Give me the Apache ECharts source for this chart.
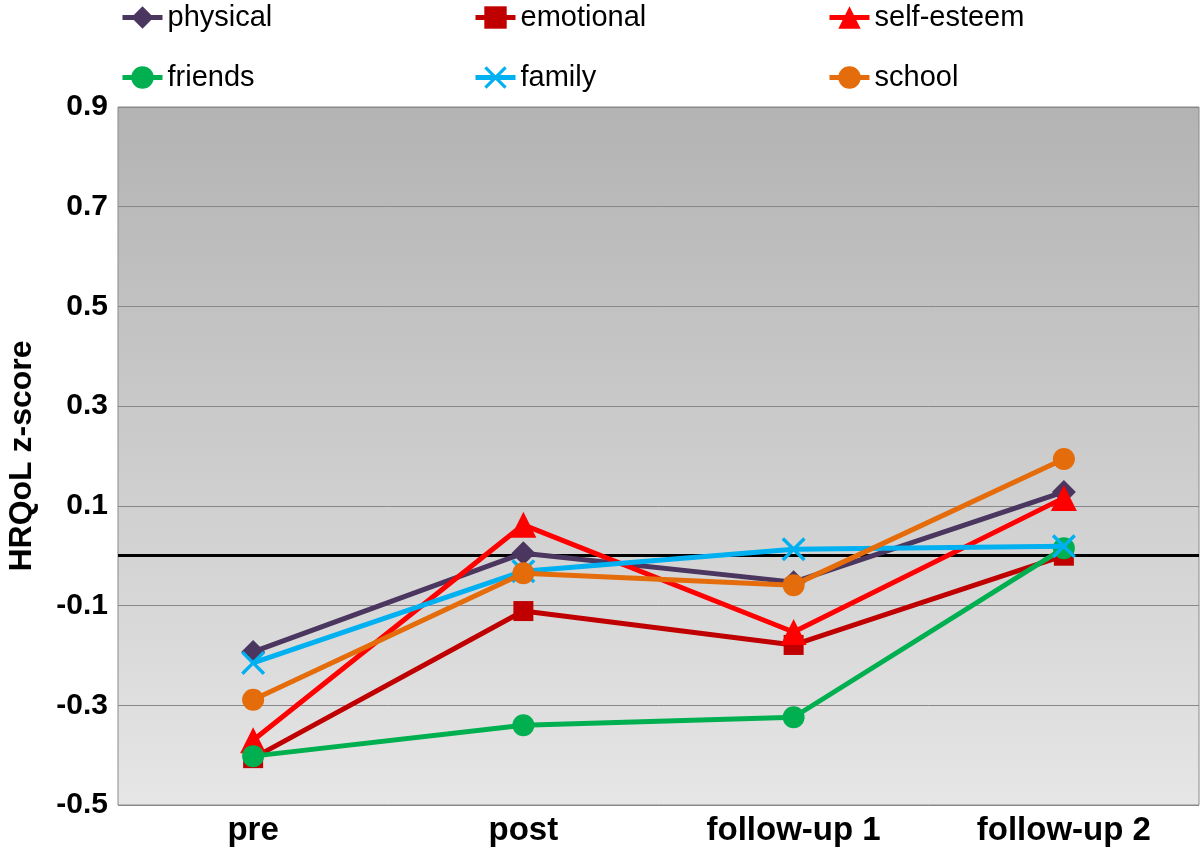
<!DOCTYPE html>
<html><head><meta charset="utf-8">
<script src="https://cdn.jsdelivr.net/npm/echarts@6/dist/echarts.min.js"></script>
<style>html,body{margin:0;padding:0;background:#fff}#c{width:1200px;height:850px}</style>
</head><body><div id="c"></div>
<script>
const categories = ['pre', 'post', 'follow-up 1', 'follow-up 2'];
const physical   = [-0.193, 0.005, -0.053, 0.128];
const emotional  = [-0.406, -0.111, -0.179, 0.0];
const selfEsteem = [-0.37, 0.062, -0.153, 0.116];
const friends    = [-0.402, -0.34, -0.324, 0.015];
const family     = [-0.215, -0.031, 0.013, 0.019];
const school     = [-0.289, -0.035, -0.059, 0.194];
const yTicks = [-0.5, -0.3, -0.1, 0.1, 0.3, 0.5, 0.7, 0.9];

const xPath = 'path://M2,0 L10,8 L18,0 L20,2 L12,10 L20,18 L18,20 L10,12 L2,20 L0,18 L8,10 L0,2 Z';
const FONT = 'Liberation Sans, Arial, Helvetica, sans-serif';

const seriesDefs = [
  {name:'physical', data:physical, color:'#4b3660', symbol:'diamond', size:24},
  {name:'emotional', data:emotional, color:'#c00000', symbol:'rect', size:20},
  {name:'self-esteem', data:selfEsteem, color:'#ff0000', symbol:'triangle', size:26},
  {name:'friends', data:friends, color:'#00b050', symbol:'circle', size:22},
  {name:'family', data:family, color:'#00b0f0', symbol:xPath, size:24},
  {name:'school', data:school, color:'#e46c0a', symbol:'circle', size:22}
];

const legendPos = [[120,3],[473,3],[827,3],[120,63],[473,63],[827,63]];

const chart = echarts.init(document.getElementById('c'));
const series = seriesDefs.map((s, i) => ({
  name: s.name, type: 'line', data: s.data,
  symbol: s.symbol, symbolSize: s.size,
  itemStyle: {color: s.color},
  lineStyle: {color: s.color, width: 5},
  z: 3 + i,
  animation: false
}));
series[0].markLine = {
  silent: true, symbol: 'none', label: {show: false},
  lineStyle: {color: '#000', width: 3, type: 'solid'},
  data: [{yAxis: 0}], z: 2
};

chart.setOption({
  animation: false,
  legend: seriesDefs.map((s, i) => ({
    data: [s.name], left: legendPos[i][0], top: legendPos[i][1], padding: 0,
    itemWidth: 40, itemHeight: 28, itemGap: 6,
    lineStyle: {width: 5},
    textStyle: {fontFamily: FONT, fontSize: 29, color: '#000'}
  })),
  grid: {
    left: 118, right: 1, top: 107, bottom: 45, show: true,
    containLabel: false, outerBoundsMode: 'none',
    borderColor: '#8a8a8a', borderWidth: 1,
    backgroundColor: new echarts.graphic.LinearGradient(0, 0, 0, 1, [
      {offset: 0, color: '#b3b3b3'}, {offset: 1, color: '#e6e6e6'}
    ])
  },
  xAxis: {
    type: 'category', data: categories, boundaryGap: true,
    axisLine: {show: false}, axisTick: {show: false},
    axisLabel: {fontFamily: FONT, fontSize: 33, fontWeight: 'bold', color: '#000', margin: 9}
  },
  yAxis: {
    type: 'value', min: yTicks[0], max: yTicks[yTicks.length-1], interval: 0.2,
    name: 'HRQoL z-score', nameLocation: 'middle', nameGap: 80,
    nameTextStyle: {fontFamily: FONT, fontSize: 32, fontWeight: 'bold', color: '#000'},
    axisLine: {show: false}, axisTick: {show: false},
    splitLine: {lineStyle: {color: '#888', width: 1}},
    axisLabel: {fontFamily: FONT, fontSize: 30, fontWeight: 'bold', color: '#000', margin: 10,
      formatter: v => (Math.abs(v) < 1e-9 ? 0 : v).toFixed(1)}
  },
  series: series
});
</script></body></html>
